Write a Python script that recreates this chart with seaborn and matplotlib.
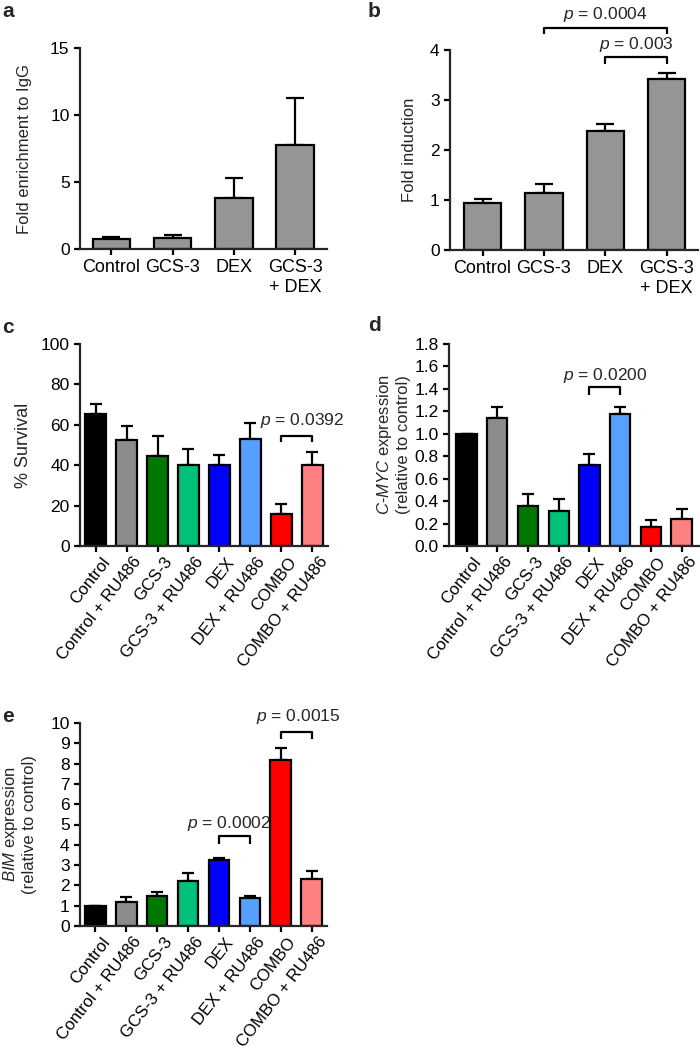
import numpy as np
import pandas as pd
import matplotlib
matplotlib.use("Agg")
import matplotlib.pyplot as plt
import matplotlib.transforms as mtransforms
import seaborn as sns

sns.set_style("ticks")
plt.rcParams['font.family'] = ['Liberation Sans', 'DejaVu Sans']
plt.rcParams['mathtext.fontset'] = 'custom'
plt.rcParams['mathtext.rm'] = 'Liberation Sans'
plt.rcParams['mathtext.it'] = 'Liberation Sans:italic'
plt.rcParams['font.size'] = 12

# --- data ---
cats_ab = ["Control", "GCS-3", "DEX", "GCS-3\n+ DEX"]
a_vals = [0.75, 0.8, 3.8, 7.75]
a_tops = [0.87, 1.07, 5.32, 11.3]
b_vals = [0.95, 1.15, 2.39, 3.43]
b_tops = [1.03, 1.32, 2.53, 3.55]

cats_8 = ["Control", "Control + RU486", "GCS-3", "GCS-3 + RU486",
          "DEX", "DEX + RU486", "COMBO", "COMBO + RU486"]
colors_8 = ["#000000", "#8c8c8c", "#007800", "#00c07a",
            "#0000ff", "#56a0ff", "#ff0000", "#ff8080"]
c_vals = [65.3, 52.4, 44.8, 40.3, 40.3, 53.0, 15.7, 40.0]
c_tops = [70.1, 59.3, 54.5, 47.9, 45.0, 61.0, 21.0, 46.6]
d_vals = [1.0, 1.137, 0.354, 0.316, 0.726, 1.18, 0.17, 0.245]
d_tops = [1.0, 1.235, 0.461, 0.417, 0.818, 1.235, 0.235, 0.334]
e_vals = [1.0, 1.2, 1.48, 2.22, 3.24, 1.4, 8.19, 2.32]
e_tops = [1.0, 1.45, 1.68, 2.63, 3.37, 1.5, 8.77, 2.71]

W, H = 700, 1055
fig = plt.figure(figsize=(W / 100, H / 100), dpi=100)


def make_ax(left, right, top, bottom):
    return fig.add_axes([left / W, 1 - bottom / H, (right - left) / W, (bottom - top) / H])


def bars(ax, cats, vals, tops, colors, width, capsize, xlim, ylim, yticks, fmt=None):
    df = pd.DataFrame({"cat": cats, "val": vals})
    sns.barplot(data=df, x="cat", y="val", hue="cat", palette=colors, legend=False,
                order=cats, width=width, saturation=1, edgecolor="black",
                linewidth=1.6, ax=ax)
    x = np.arange(len(cats))
    up = np.array(tops) - np.array(vals)
    ax.errorbar(x, vals, yerr=[np.zeros(len(x)), up], fmt="none", ecolor="black",
                elinewidth=1.6, capsize=capsize, capthick=1.6, zorder=0.5)
    ax.set_xlim(*xlim)
    ax.set_ylim(*ylim)
    ax.set_yticks(yticks)
    if fmt:
        ax.set_yticklabels([fmt.format(t) for t in yticks])
    ax.set_xlabel("")
    for s in ["top", "right"]:
        ax.spines[s].set_visible(False)
    for s in ["left", "bottom"]:
        ax.spines[s].set_linewidth(1.6)
    ax.tick_params(width=1.6, length=4.5, labelsize=12.5, pad=3, colors="black")


def bracket(ax, x1, x2, y, leg, text, tx, ty):
    ax.plot([x1, x1, x2, x2], [y - leg, y, y, y - leg], color="black", lw=1.6,
            clip_on=False, solid_capstyle="butt")
    ax.text(tx, ty, text, ha="center", va="bottom", fontsize=12.5, clip_on=False)


def rot_labels(ax):
    ax.set_xticks(range(len(cats_8)))
    ax.set_xticklabels(cats_8, rotation=52, ha="right", va="top",
                       rotation_mode="anchor", fontsize=12.2)
    ax.tick_params(axis="x", pad=1.5)
    shift = mtransforms.ScaledTranslation(6 / 100, 0, fig.dpi_scale_trans)
    for lab in ax.get_xticklabels():
        lab.set_transform(lab.get_transform() + shift)


# a
ax = make_ax(80, 327, 48, 249)
bars(ax, cats_ab, a_vals, a_tops, ["#959595"] * 4, 0.61, 6.5, (-0.51, 3.52), (0, 15), [0, 5, 10, 15])
ax.tick_params(axis="x", labelsize=13)
ax.set_ylabel("Fold enrichment to IgG", fontsize=12)
ax.yaxis.set_label_coords(-0.194, 0.5)

# b
ax = make_ax(450, 698, 50, 250)
bars(ax, cats_ab, b_vals, b_tops, ["#959595"] * 4, 0.61, 6.5, (-0.53, 3.51), (0, 4), [0, 1, 2, 3, 4])
ax.tick_params(axis="x", labelsize=13)
ax.set_ylabel("Fold induction", fontsize=12)
ax.yaxis.set_label_coords(-0.134, 0.5)
bracket(ax, 1, 3, 4.45, 0.14, "$p$ = 0.0004", 2, 4.52)
bracket(ax, 2, 3, 3.87, 0.14, "$p$ = 0.003", 2.5, 3.93)

# c
ax = make_ax(80, 328, 344, 546)
bars(ax, cats_8, c_vals, c_tops, colors_8, 0.66, 4.2, (-0.5, 7.5), (0, 100), [0, 20, 40, 60, 80, 100])
rot_labels(ax)
ax.set_ylabel("% Survival", fontsize=13)
ax.yaxis.set_label_coords(-0.194, 0.5)
bracket(ax, 6, 7, 54.5, 3.2, "$p$ = 0.0392", 6.65, 57.5)

# d
ax = make_ax(449, 700, 344, 546)
bars(ax, cats_8, d_vals, d_tops, colors_8, 0.66, 4.2, (-0.57, 7.6), (0, 1.8),
     [0, 0.2, 0.4, 0.6, 0.8, 1.0, 1.2, 1.4, 1.6, 1.8], fmt="{:.1f}")
rot_labels(ax)
ax.set_ylabel("$C$-$MYC$ expression\n(relative to control)", fontsize=12)
ax.yaxis.set_label_coords(-0.15, 0.5)
bracket(ax, 4, 5, 1.42, 0.075, "$p$ = 0.0200", 4.5, 1.435)

# e
ax = make_ax(80, 327, 723, 926)
bars(ax, cats_8, e_vals, e_tops, colors_8, 0.66, 4.2, (-0.5, 7.5), (0, 10), list(range(11)))
rot_labels(ax)
ax.set_ylabel("$BIM$ expression\n(relative to control)", fontsize=12)
ax.yaxis.set_label_coords(-0.174, 0.5)
bracket(ax, 4, 5, 4.44, 0.41, "$p$ = 0.0002", 4.33, 4.6)
bracket(ax, 6, 7, 9.57, 0.35, "$p$ = 0.0015", 6.57, 9.85)

# panel letters
for lab, x, y in [("a", 2, 2), ("b", 368, 2), ("c", 2, 318), ("d", 368, 316), ("e", 2, 707)]:
    fig.text(x / W, 1 - y / H, lab, fontsize=15, fontweight="bold", ha="left", va="top")

fig.savefig("out.png", dpi=100)
